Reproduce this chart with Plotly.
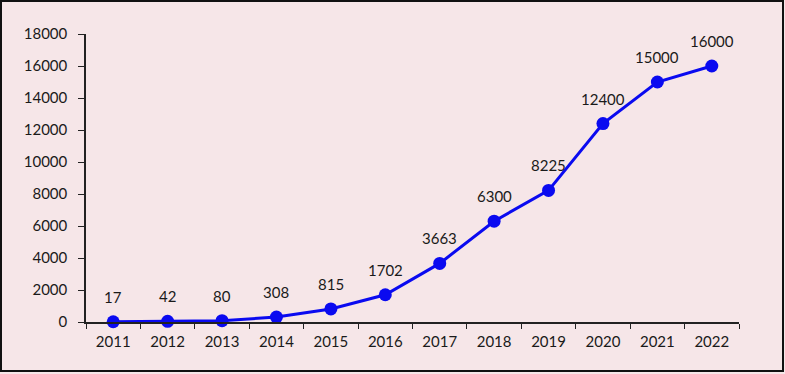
import plotly.graph_objects as go

years = ["2011", "2012", "2013", "2014", "2015", "2016", "2017", "2018", "2019", "2020", "2021", "2022"]
values = [17, 42, 80, 308, 815, 1702, 3663, 6300, 8225, 12400, 15000, 16000]
y_ticks = [0, 2000, 4000, 6000, 8000, 10000, 12000, 14000, 16000, 18000]

W, H = 785, 374
L, R, T, B = 86, 46, 34, 52
pw, ph = W - L - R, H - T - B

fig = go.Figure()
fig.add_trace(go.Scatter(
    x=years, y=values, mode="lines+markers",
    line=dict(color="#0A0AF0", width=3),
    marker=dict(color="#0A0AF0", size=13),
    cliponaxis=False, hoverinfo="skip",
))

for i, v in enumerate(values):
    fig.add_annotation(x=i, y=v, text=str(v), showarrow=False, yshift=25,
                       font=dict(size=15, color="#1a1a1a"))

bg = "#F6E6E8"
fig.update_layout(
    width=W, height=H, margin=dict(l=L, r=R, t=T, b=B),
    paper_bgcolor=bg, plot_bgcolor=bg, showlegend=False,
    font=dict(family="Lato, Open Sans, sans-serif", size=15, color="#1a1a1a"),
    xaxis=dict(type="category", range=[-0.5, len(years) - 0.5], showline=True,
               linecolor="#222", linewidth=1.5,
               ticks="outside", ticklen=5, tickcolor="#222", tickson="boundaries",
               ticklabelstandoff=5,
               showgrid=False, zeroline=False, tickfont=dict(size=15)),
    yaxis=dict(range=[0, 18000], tickvals=y_ticks, ticktext=[str(t) for t in y_ticks],
               showline=True, linecolor="#222", ticklabelstandoff=8,
               linewidth=1.5, ticks="outside", ticklen=6, tickcolor="#222",
               showgrid=False, zeroline=False, tickfont=dict(size=15)),
)

fig.add_shape(type="rect", xref="paper", yref="paper",
              x0=(1 - L) / pw, x1=(W - 2 - L) / pw,
              y0=(H - B - (H - 3)) / ph, y1=(H - B - 1) / ph,
              line=dict(color="#111", width=2), fillcolor="rgba(0,0,0,0)")

fig.write_html("out.html", config={"displayModeBar": False},
               post_script="document.body.style.margin='0';document.body.style.overflow='hidden';")
